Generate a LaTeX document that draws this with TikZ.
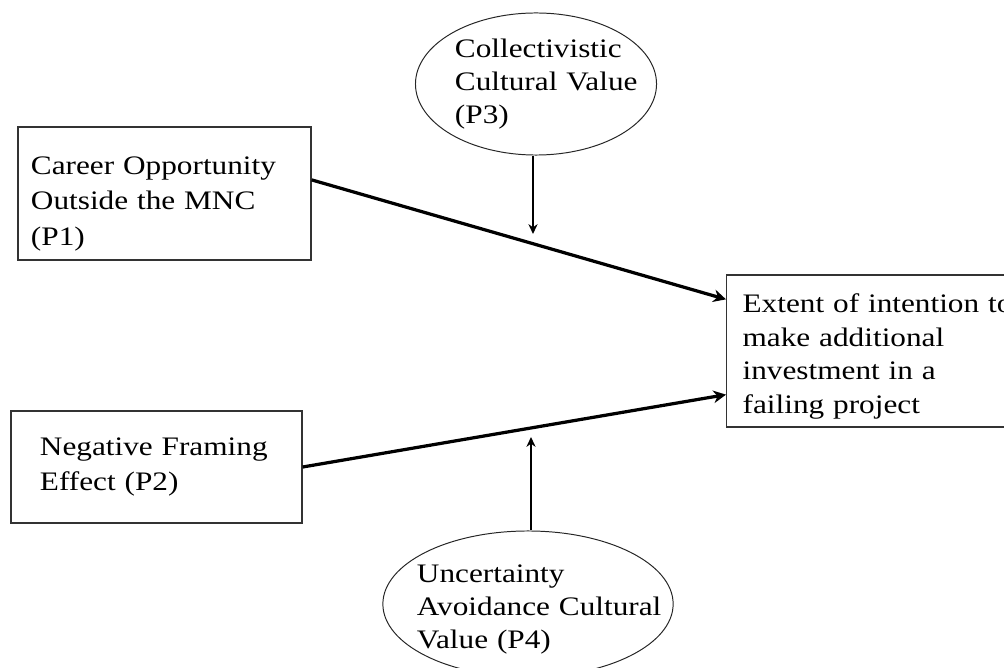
\documentclass[tikz,border=0pt]{standalone}
\usepackage{fontspec}
\setmainfont[FakeStretch=1.17]{Liberation Serif}
\usetikzlibrary{arrows.meta, shapes.geometric}

\begin{document}
\begin{tikzpicture}[
    x=0.025cm, y=-0.025cm,
    prop/.style={draw=black!80, line width=0.9pt, rectangle, align=left,
      inner ysep=0pt, font=\fontsize{19pt}{25pt}\selectfont},
    moder/.style={draw=black!85, line width=0.7pt, ellipse, align=left,
      inner sep=0pt, font=\fontsize{19pt}{23.5pt}\selectfont},
    effect/.style={line width=2.3pt, -{Stealth[length=9pt, width=9pt]}},
    modarrow/.style={line width=1.5pt, -{Stealth[length=7pt, width=6.5pt]}},
  ]
    \useasboundingbox (0,0) rectangle (1004,668);

    % predictors
    \node[prop, minimum width=7.325cm, minimum height=3.325cm,
      text width=6.675cm, inner xsep=0.325cm] (p1) at (164.5,193.5)
      {\rule{0pt}{27.5pt}Career Opportunity\\Outside the MNC\\(P1)};
    \node[prop, minimum width=7.275cm, minimum height=2.8cm,
      text width=5.825cm, inner xsep=0.725cm] (p2) at (156.5,467)
      {Negative Framing\\Effect (P2)};

    % outcome
    \node[prop, font=\fontsize{19pt}{24pt}\selectfont, anchor=west,
      minimum height=3.8cm, text width=7cm, inner xsep=0.4cm] (out) at (726,351)
      {\rule{0pt}{21pt}Extent of intention to\\make additional\\investment in a\\failing project};

    % moderators
    \node[moder, minimum width=6.025cm, minimum height=3.55cm,
      text width=4.05cm] (coll) at (536,84)
      {Collectivistic\\\mbox{Cultural Value}\\(P3)};
    \node[moder, minimum width=7.25cm, minimum height=3.65cm,
      text width=5.55cm, inner xsep=-0.21cm] (unc) at (528,604)
      {\rule{0pt}{20pt}Uncertainty\\\mbox{Avoidance Cultural}\\Value (P4)};

    \coordinate (tipc) at (533,234);
    \coordinate (tipu) at (531,437);

    \draw[effect] ([yshift=0.34cm]p1.east) -- ([yshift=-0.625cm]out.north west);
    \draw[effect] (p2.east) -- ([yshift=0.825cm]out.south west);
    \draw[modarrow] (coll.south -| tipc) -- (tipc);
    \draw[modarrow] (unc.north -| tipu) -- (tipu);
  \end{tikzpicture}
\end{document}
